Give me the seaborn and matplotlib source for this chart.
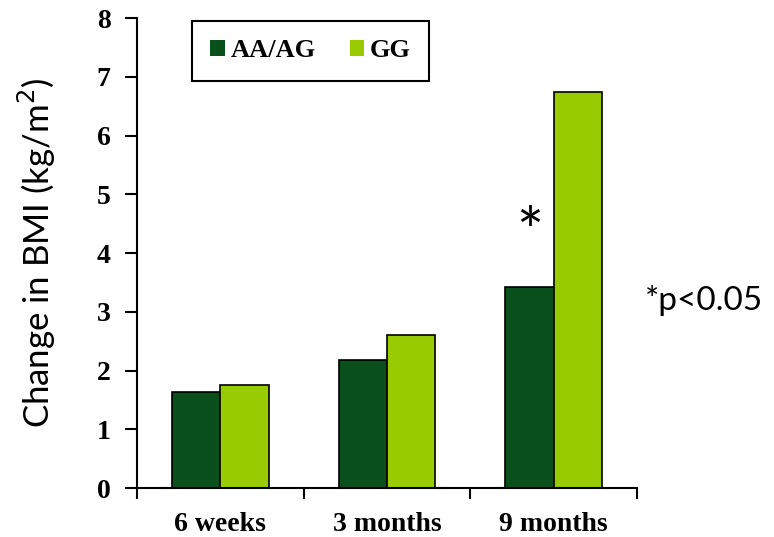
import matplotlib

matplotlib.use("Agg")

import matplotlib.pyplot as plt
import pandas as pd
import seaborn as sns
from matplotlib.ticker import FixedLocator

# Data
periods = ["6 weeks", "3 months", "9 months"]
genotypes = ["AA/AG", "GG"]
aa_ag_values = [1.64, 2.19, 3.43]
gg_values = [1.76, 2.61, 6.74]
y_ticks = [0, 1, 2, 3, 4, 5, 6, 7, 8]

DARK = "#0a501c"
LIGHT = "#99cc00"

df = pd.DataFrame(
    {
        "period": periods * 2,
        "genotype": [genotypes[0]] * 3 + [genotypes[1]] * 3,
        "bmi": aa_ag_values + gg_values,
    }
)

sns.set_theme(style="white")
plt.rcParams["font.family"] = ["DejaVu Sans"]
plt.rcParams["text.color"] = "black"
plt.rcParams["axes.labelcolor"] = "black"
plt.rcParams["xtick.color"] = "black"
plt.rcParams["ytick.color"] = "black"

fig = plt.figure(figsize=(7.74, 5.37), dpi=100)
ax = fig.add_axes([0.177, 0.091, 0.646, 0.875])

sns.barplot(
    data=df,
    x="period",
    y="bmi",
    hue="genotype",
    order=periods,
    hue_order=genotypes,
    palette=[DARK, LIGHT],
    width=0.58,
    edgecolor="black",
    linewidth=1.2,
    saturation=1,
    errorbar=None,
    ax=ax,
)

ax.set_xlim(-0.5, 2.5)
ax.set_ylim(0, 8)
ax.set_yticks(y_ticks)
ax.set_xlabel("")
ax.set_ylabel("Change in BMI (kg/m$^2$)", fontsize=25, family="Lato", labelpad=28)

serif_bold = {"family": "Liberation Serif", "weight": "bold", "size": 20}
ax.set_yticklabels([str(t) for t in y_ticks], fontdict=serif_bold)
ax.set_xticklabels(periods, fontdict=serif_bold)

ax.tick_params(axis="x", which="major", length=0, pad=17)
ax.xaxis.set_minor_locator(FixedLocator([-0.5, 0.5, 1.5, 2.5]))
ax.tick_params(axis="x", which="minor", direction="out", length=8, width=1.5, color="black", bottom=True)
ax.tick_params(axis="y", direction="out", length=9, width=1.5, color="black", left=True, pad=10)

for side in ["top", "right"]:
    ax.spines[side].set_visible(False)
for side in ["left", "bottom"]:
    ax.spines[side].set_color("black")
    ax.spines[side].set_linewidth(1.5)

ax.text(1.855, 4.3, "*", fontsize=46, ha="center", va="center", family="Lato")
fig.text(0.833, 0.44, "*p<0.05", fontsize=24, family="Lato", va="center", ha="left")

leg = ax.legend(
    loc="upper left",
    bbox_to_anchor=(0.11, 0.995),
    ncol=2,
    frameon=True,
    fancybox=False,
    framealpha=1,
    edgecolor="black",
    prop={"family": "Liberation Serif", "weight": "bold", "size": 19},
    handlelength=0.55,
    handleheight=0.55,
    handletextpad=0.2,
    columnspacing=1.3,
    borderpad=0.7,
    borderaxespad=0,
)
leg.get_frame().set_linewidth(1.5)
for h in leg.legend_handles:
    h.set_edgecolor("none")

fig.savefig("out.png", dpi=100)
